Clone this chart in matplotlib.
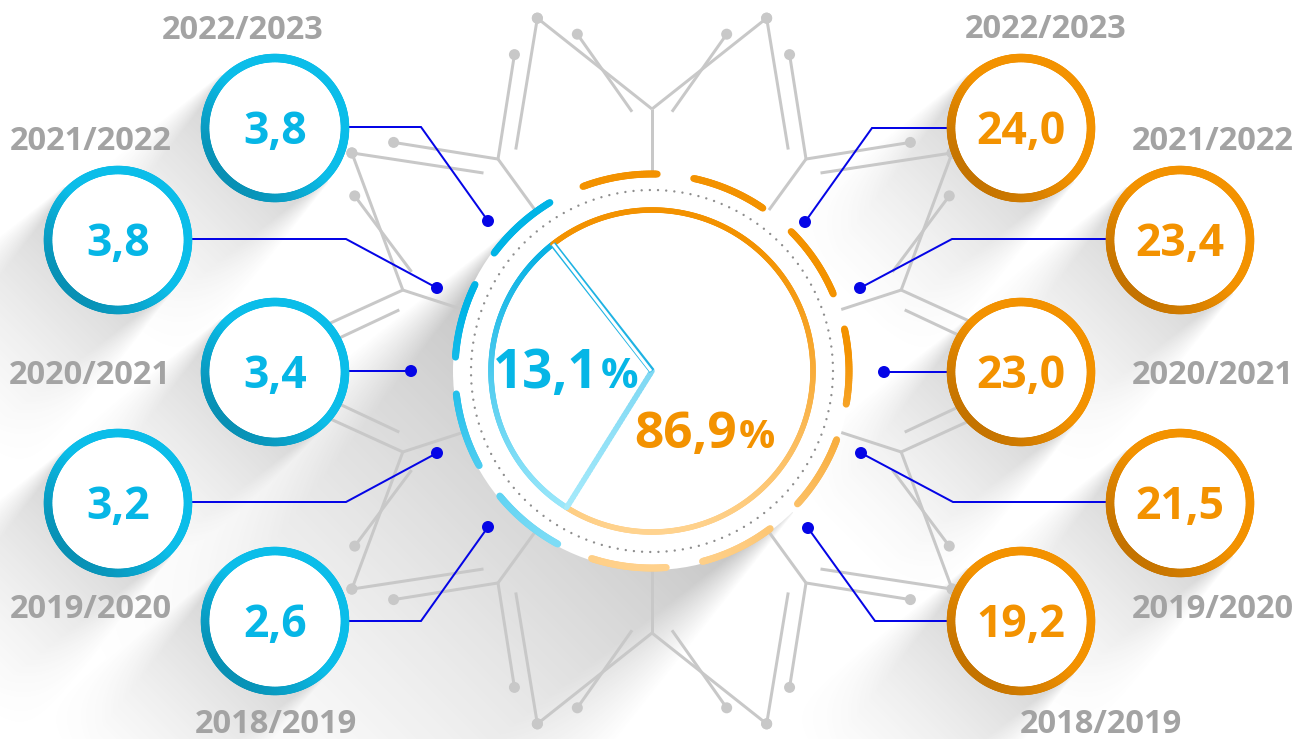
import numpy as np
import matplotlib
matplotlib.use("Agg")
import matplotlib.pyplot as plt
from matplotlib.collections import LineCollection
from matplotlib.patches import Circle
from matplotlib.colors import to_rgb

# ---------------- data ----------------
years = ["2018/2019", "2019/2020", "2020/2021", "2021/2022", "2022/2023"]
left_values = [2.6, 3.2, 3.4, 3.8, 3.8]          # blue series
right_values = [19.2, 21.5, 23.0, 23.4, 24.0]    # orange series
share_values = [13.1, 86.9]                      # blue share, orange share

# ---------------- layout ----------------
W, H, DPI = 1297, 739, 100
PT = 72.0 / DPI  # points per pixel
CX, CY = 652, 371

left_centers = [(275, 621), (118, 503), (275, 372), (118, 240), (275, 128)]
right_centers = [(1021, 621), (1180, 503), (1021, 372), (1180, 240), (1021, 128)]
left_year_pos = [(276, 733), (91, 618), (90, 384), (91, 150), (243, 39)]
right_year_pos = [(1101, 733), (1213, 618), (1213, 384), (1213, 150), (1046, 38)]
left_conn = [[(349, 621), (421, 621), (488, 527)],
             [(192, 502), (346, 502), (437, 453)],
             [(349, 371), (411, 371)],
             [(192, 239), (346, 239), (437, 288)],
             [(349, 127), (421, 127), (488, 221)]]
right_conn = [[(947, 621), (875, 621), (808, 528)],
              [(1106, 502), (953, 502), (861, 453)],
              [(947, 372), (884, 372)],
              [(1106, 239), (952, 239), (860, 288)],
              [(947, 128), (872, 128), (805, 222)]]

BLUE = "#06b6e6"
ORANGE = "#f39200"
GREY_TXT = "#a3a3a3"
CIRCUIT = "#c8c8c8"
CONN = "#0505e6"
FONT = ["Open Sans", "DejaVu Sans"]

fig = plt.figure(figsize=(W / DPI, H / DPI), dpi=DPI)
ax = fig.add_axes([0, 0, 1, 1])
ax.set_xlim(0, W)
ax.set_ylim(H, 0)
ax.axis("off")


def mix(c1, c2, f):
    a, b = np.array(to_rgb(c1)), np.array(to_rgb(c2))
    return tuple(a * (1 - f) + b * f)


def polar(r, deg):
    t = np.radians(deg)
    return CX + r * np.cos(t), CY - r * np.sin(t)


# ---------------- long soft shadows (toward lower-left) ----------------
yy, xx = np.mgrid[0:H, 0:W] + 0.5
alpha = np.zeros((H, W))
d = np.array([-0.707, 0.707])  # image coords: left & down


def long_shadow(cx, cy, R, L, s):
    global alpha
    px, py = xx - cx, yy - cy
    t = px * d[0] + py * d[1]
    perp = np.abs(px * d[1] - py * d[0])
    tp = np.clip(t, 0, None)
    soft = 5 + 0.25 * tp
    edge = np.clip((R - perp) / soft + 0.5, 0, 1)
    along = np.clip(1 - tp / L, 0, 1) ** 1.4
    a = np.where(t > 0, s * edge * along, 0)
    alpha = np.maximum(alpha, a)


long_shadow(CX, CY, 198, 620, 0.42)
for c in left_centers + right_centers:
    long_shadow(c[0], c[1], 74, 250, 0.30)
img = np.zeros((H, W, 4))
img[..., :3] = 0.38
img[..., 3] = alpha
ax.imshow(img, extent=(0, W, H, 0), origin="upper", zorder=1,
          interpolation="bilinear", aspect="auto")

# ---------------- circuit decoration ----------------
fork_angles = [90, 126, 162, 198, 234, 270, 306, 342, 18, 54]
fork_types = ["A", "B", "A", "A", "B", "A", "B", "A", "A", "B"]
lw_c = 3.0 * PT
dots = []


def cline(p, q):
    ax.plot([p[0], q[0]], [p[1], q[1]], color=CIRCUIT, lw=lw_c, solid_capstyle="butt", zorder=2)


for th, ty in zip(fork_angles, fork_types):
    J = polar(262, th)
    cline(polar(196, th), J)
    for s in (-1, 1):
        facing_axis = abs(np.sin(np.radians(th + s * 18))) < 0.2
        if ty == "A":
            end = polar(371, th + s * (14 if facing_axis else 18))
            cline(J, end)
            dots.append(end)
            p0 = polar(260, th + s * 4.4)
            p1 = polar(345, th + s * (15 if facing_axis else 12.5))
            cline(p0, p1)
            dots.append(p1)
        else:
            end = polar(345, th + s * 12.5)
            cline(J, end)
            dots.append(end)
            p0 = polar(260, th + s * 4.4)
            p1 = polar(371, th + s * 18)
            cline(p0, p1)
            dots.append(p1)
for p in dots:
    ax.add_patch(Circle(p, 5.5, color=CIRCUIT, zorder=2, lw=0))

# ---------------- connectors ----------------
for pts in left_conn + right_conn:
    xs, ys = zip(*pts)
    ax.plot(xs, ys, color=CONN, lw=2.0 * PT, zorder=4, solid_joinstyle="miter")
    ax.add_patch(Circle(pts[-1], 6, color=CONN, zorder=4, lw=0))


# ---------------- small value circles ----------------
def ring(cx, cy, bright, dark):
    th = np.linspace(0, 360, 241)
    x = cx + 70 * np.cos(np.radians(th))
    y = cy - 70 * np.sin(np.radians(th))
    pts = np.column_stack([x, y])
    segs = np.stack([pts[:-1], pts[1:]], axis=1)
    mids = (th[:-1] + th[1:]) / 2
    f = np.clip(np.cos(np.radians(mids - 228)), 0, 1) ** 0.9
    cols = [mix(bright, dark, v) for v in f]
    ax.add_patch(Circle((cx, cy), 70, color="white", zorder=5, lw=0))
    ax.add_collection(LineCollection(segs, colors=cols, linewidths=8.5 * PT,
                                     capstyle="round", zorder=6))


def fmt(v):
    return f"{v:.1f}".replace(".", ",")


for (cx, cy), v in zip(left_centers, left_values):
    ring(cx, cy, "#0bbde9", "#0890b4")
    ax.text(cx, cy + 16, fmt(v), color=BLUE, fontsize=32, fontweight="bold",
            family=FONT, ha="center", va="baseline", zorder=7)
for (cx, cy), v in zip(right_centers, right_values):
    ring(cx, cy, "#f39200", "#c47300")
    ax.text(cx, cy + 16, fmt(v), color=ORANGE, fontsize=32, fontweight="bold",
            family=FONT, ha="center", va="baseline", zorder=7)

for (x, y), t in zip(left_year_pos + right_year_pos, years + years):
    ax.text(x, y, t, color=GREY_TXT, fontsize=23.5, fontweight="bold",
            family=FONT, ha="center", va="baseline", zorder=7)

# ---------------- main circle ----------------
ax.add_patch(Circle((CX, CY), 199, color="white", zorder=6, lw=0))


def grad_arc(r, a0, a1, colfun, lw, z, cap="round", n=None):
    n = n or max(int(abs(a1 - a0) * 2), 8)
    th = np.linspace(a0, a1, n + 1)
    x, y = polar(r, th)
    pts = np.column_stack([x, y])
    segs = np.stack([pts[:-1], pts[1:]], axis=1)
    ym = (y[:-1] + y[1:]) / 2
    cols = [colfun(v) for v in ym]
    ax.add_collection(LineCollection(segs, colors=cols, linewidths=lw, capstyle=cap, zorder=z))


def blue_outer(y):
    f = np.clip((y - (CY - 200)) / 400, 0, 1)
    return mix("#00b4e6", "#8fe2f8", np.clip((f - 0.35) / 0.65, 0, 1) ** 1.2)


def orange_outer(y):
    f = np.clip((y - (CY - 200)) / 400, 0, 1)
    return mix("#f39200", "#ffd28e", np.clip((f - 0.45) / 0.55, 0, 1) ** 0.9)


# dashed outer segments
step = 360 / 11
for k in range(11):
    c = (99.5 + k * step) % 360
    a0, a1 = c - 11, c + 11
    colfun = blue_outer if 115 < c < 250 else orange_outer
    grad_arc(197, a0, a1, colfun, 7 * PT, 8)

# dotted circle
tt = np.radians(np.linspace(0, 360, 721))
ax.plot(CX + 181 * np.cos(tt), CY - 181 * np.sin(tt), color="#8e8e8e", lw=2.4 * PT,
        linestyle=(0, (0.01, 3.4)), dash_capstyle="round", zorder=8)


# pie ring
def blue_pie(y):
    f = np.clip((y - (CY - 161)) / 322, 0, 1)
    return mix("#0ab2e4", "#a8ecfc", np.clip((f - 0.15) / 0.85, 0, 1))


def orange_pie(y):
    f = np.clip((y - (CY - 161)) / 322, 0, 1)
    return mix("#f39200", "#ffd38f", np.clip((f - 0.1) / 0.9, 0, 1) ** 1.1)


B0, B1 = 128, 238
grad_arc(161, B0, B1, blue_pie, 5.5 * PT, 9, cap="round")
grad_arc(161, B1 - 360, B0, orange_pie, 5.5 * PT, 9, cap="round")

# lower radius (solid light blue gradient)
p_end = polar(161, B1)
n = 40
xs = np.linspace(CX, p_end[0], n + 1)
ys = np.linspace(CY, p_end[1], n + 1)
pts = np.column_stack([xs, ys])
segs = np.stack([pts[:-1], pts[1:]], axis=1)
cols = [mix("#7fd8f3", "#a6eafb", i / n) for i in range(n)]
ax.add_collection(LineCollection(segs, colors=cols, linewidths=5.5 * PT, capstyle="round", zorder=9))

# upper radius (hollow double line)
p_top = polar(161, B0)
ax.plot([CX, p_top[0]], [CY, p_top[1]], color="#1fb3e3", lw=6 * PT, solid_capstyle="butt", zorder=10)
ax.plot([CX - 1, p_top[0]], [CY, p_top[1]], color="white", lw=3 * PT, solid_capstyle="butt", zorder=11)


# share labels
def pct(v):
    return f"{v:.1f}".replace(".", ",")


ax.text(599, 388, pct(share_values[0]), color=BLUE, fontsize=38, fontweight="bold",
        family=FONT, ha="right", va="baseline", zorder=12)
ax.text(601, 388, "%", color=BLUE, fontsize=30, fontweight="bold",
        family=FONT, ha="left", va="baseline", zorder=12)
ax.text(737, 448, pct(share_values[1]), color=ORANGE, fontsize=37, fontweight="bold",
        family=FONT, ha="right", va="baseline", zorder=12)
ax.text(739, 448, "%", color=ORANGE, fontsize=29, fontweight="bold",
        family=FONT, ha="left", va="baseline", zorder=12)

fig.savefig("out.png", dpi=DPI, facecolor="white")
